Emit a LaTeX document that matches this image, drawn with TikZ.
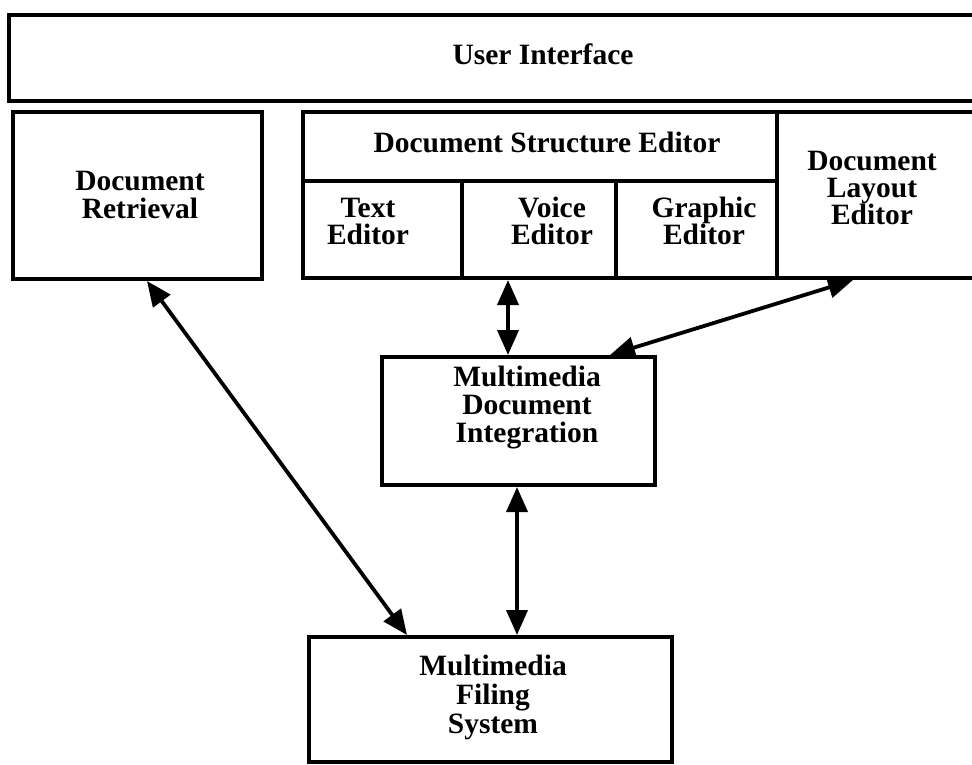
\documentclass[tikz,border=0pt]{standalone}
\usepackage{fontspec}
\setmainfont{Liberation Serif}
\usetikzlibrary{arrows.meta,calc}
\newcommand{\lblfont}[1]{\fontsize{29.5}{#1}\selectfont\bfseries}
\begin{document}
\begin{tikzpicture}[x=1pt,y=-1pt,
  box/.style={draw,line width=4pt,inner sep=0pt,anchor=north west},
  lbl/.style={align=center,inner sep=0pt,font=\lblfont{27}},
  link/.style={line width=3.8pt,{Triangle[length=25pt,width=21pt]}-{Triangle[length=25pt,width=21pt]}}]
\clip (0,0) rectangle (972,764);
\fill[white] (0,0) rectangle (972,764);
% top bar
\node[box,minimum width=1230pt,minimum height=86pt] (ui) at (7,13) {};
\node[lbl] (uil) at (543,54) {User Interface};
% retrieval
\node[box,minimum width=249pt,minimum height=167pt] (dr) at (11,110) {};
\node[lbl,font=\lblfont{28}] (drl) at (140,195) {Document\\Retrieval};
% editor block
\node[box,minimum width=474pt,minimum height=69pt] (dse) at (301,110) {};
\node[lbl] (dsel) at (547,142) {Document Structure Editor};
\node[box,minimum width=159pt,minimum height=97pt] (te) at (301,179) {};
\node[lbl] (tel) at (368,221) {Text\\Editor};
\node[box,minimum width=154pt,minimum height=97pt] (ve) at (460,179) {};
\node[lbl] (vel) at (552,221) {Voice\\Editor};
\node[box,minimum width=161pt,minimum height=97pt] (ge) at (614,179) {};
\node[lbl] (gel) at (704,221) {Graphic\\Editor};
\node[box,minimum width=260pt,minimum height=166pt] (dle) at (775,110) {};
\node[lbl,font=\lblfont{27}] (dlel) at (872,188) {Document\\Layout\\Editor};
% integration and filing
\node[box,minimum width=273pt,minimum height=128pt] (mdi) at (380,355) {};
\node[lbl,font=\lblfont{28}] (mdil) at (527,408) {Multimedia\\Document\\Integration};
\node[box,minimum width=363pt,minimum height=125pt] (mfs) at (307,635) {};
\node[lbl,font=\lblfont{29}] (mfsl) at (493,697) {Multimedia\\Filing\\System};
% connectors
\draw[link] ($(dr.south west)+(136,0)$) -- ($(mfs.north west)+(100,0)$);
\draw[link] ($(ve.south west)+(48,0)$) -- ($(mdi.north west)+(128,0)$);
\draw[link] ($(dle.south west)+(78,0)$) -- ($(mdi.north west)+(230,0)$);
\draw[link] ($(mdi.south west)+(137,0)$) -- ($(mfs.north west)+(210,0)$);
\end{tikzpicture}
\end{document}
